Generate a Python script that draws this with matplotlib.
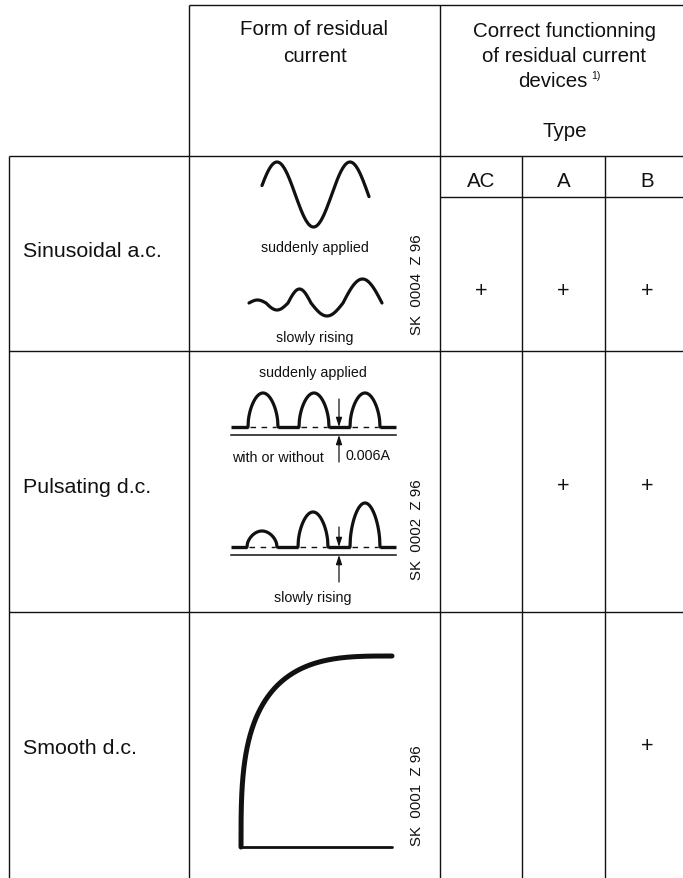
import numpy as np
import matplotlib.pyplot as plt

# Table content
row_labels = ["Sinusoidal a.c.", "Pulsating d.c.", "Smooth d.c."]
device_types = ["AC", "A", "B"]
# '+' = correct functioning of the device type for this form of current
works = [["+", "+", "+"],
         ["", "+", "+"],
         ["", "", "+"]]
drawing_codes = ["SK  0004  Z 96", "SK  0002  Z 96", "SK  0001  Z 96"]
header_form = ["Form of residual", "current"]
header_devices = ["Correct functionning", "of residual current"]

# pictogram parameters
slow_sine_amps = [3, -7, 14, -13, 24]        # half-cycle amplitudes, slowly rising a.c.
pulse_heights_sudden = [34, 34, 34]           # pulse heights, suddenly applied
pulse_heights_rising = [16, 35, 44]           # pulse heights, slowly rising

plt.rcParams['font.family'] = ['Liberation Sans', 'DejaVu Sans']
INK = "#111111"

fig = plt.figure(figsize=(6.83, 8.79), dpi=100)
ax = fig.add_axes([0, 0, 1, 1])
ax.set_xlim(0, 683)
ax.set_ylim(879, 0)
ax.axis('off')

# grid geometry (pixels)
x_left, x_form, x_dev = 9, 189, 440
x_types = [440, 522, 605, 689]
y_top, y_head, y_type = 5.7, 157, 198
row_edges = [157, 352, 613, 879]


def hline(y, x0, x1):
    ax.plot([x0, x1], [y, y], color=INK, lw=1.0, solid_capstyle='butt')


def vline(x, y0, y1):
    ax.plot([x, x], [y0, y1], color=INK, lw=1.0, solid_capstyle='butt')


hline(y_top, x_form, 690)
for y in row_edges[:-1]:
    hline(y, x_left, 690)
hline(y_type, x_dev, 690)
vline(x_left, y_head, 879)
vline(x_form, y_top, 879)
vline(x_dev, y_top, 879)
for x in x_types[1:3]:
    vline(x, y_head, 879)

# headers
big = 14.8
small = 10.3
cx_form = (x_form + x_dev) / 2
for txt, yb in zip(header_form, [35, 62]):
    ax.text(cx_form, yb, txt, ha='center', va='baseline', fontsize=big, color=INK)
cx_dev = (x_dev + x_types[-1]) / 2
for txt, yb in zip(header_devices, [37, 62]):
    ax.text(cx_dev, yb, txt, ha='center', va='baseline', fontsize=big, color=INK)
ax.text(cx_dev - 12, 87, "devices", ha='center', va='baseline', fontsize=big, color=INK)
ax.text(cx_dev + 27, 79, "1)", ha='left', va='baseline', fontsize=7.5, color=INK)
ax.text(cx_dev, 137, "Type", ha='center', va='baseline', fontsize=big, color=INK)

col_centers = [(a + b) / 2 for a, b in zip(x_types[:-1], x_types[1:])]
for cx, t in zip(col_centers, device_types):
    ax.text(cx, 187, t, ha='center', va='baseline', fontsize=big, color=INK)

# row labels, marks, drawing codes
label_base = [257, 493, 754]
plus_y = [292, 487, 747]
code_y = [285, 530, 796]
for i, lab in enumerate(row_labels):
    ax.text(23, label_base[i], lab, ha='left', va='baseline', fontsize=15.4, color=INK)
    for cx, m in zip(col_centers, works[i]):
        if m:
            ax.text(cx, plus_y[i], m, ha='center', va='center', fontsize=15.5,
                    color=INK, fontweight='light')
    ax.text(417, code_y[i], drawing_codes[i], rotation=90, ha='center', va='center',
            fontsize=10.8, color=INK)

wave_kw = dict(color=INK, lw=2.3, solid_capstyle='round', solid_joinstyle='round')

# row 1: sinusoidal a.c., suddenly applied
xs = np.linspace(262, 369, 200)
ax.plot(xs, 195.5 - 32.5 * np.sin(2 * np.pi * (xs - 277) / 73 + np.pi / 2), **wave_kw)
ax.text(315, 248, "suddenly applied", ha='center', va='center', fontsize=small, color=INK)

# row 1: slowly rising
edges = [249, 266, 288, 311, 343, 382]
px, py = [], []
for a, b, amp in zip(edges[:-1], edges[1:], slow_sine_amps):
    t = np.linspace(0, 1, 40)
    px.extend(a + (b - a) * t)
    py.extend(304 - amp * np.sin(np.pi * t))
ax.plot(px, py, **wave_kw)
ax.text(315, 338, "slowly rising", ha='center', va='center', fontsize=small, color=INK)


def pulses(base, heights, starts, width=30):
    segs = [231] + [v for s in starts for v in (s, s + width)] + [396]
    for a, b in zip(segs[0::2], segs[1::2]):
        ax.plot([a, b], [base, base], color=INK, lw=2.4, solid_capstyle='butt')
    for s, h in zip(starts, heights):
        t = np.linspace(0, 1, 80)
        ax.plot(s + width * t, base - h * np.sin(np.pi * t) ** 0.5, **wave_kw)
        ax.plot([s + 2, s + width - 2], [base, base], color=INK, lw=1.0,
                dashes=(4, 4))
    ax.plot([231, 396], [base + 8, base + 8], color=INK, lw=1.1)


def arrow(x, y0, y1):
    ax.annotate("", xy=(x, y1), xytext=(x, y0),
                arrowprops=dict(arrowstyle='-|>,head_length=0.55,head_width=0.18',
                                color=INK, lw=0.9, shrinkA=0, shrinkB=0))


# row 2: pulsating d.c.
ax.text(313, 373, "suddenly applied", ha='center', va='center', fontsize=small, color=INK)
pulses(428, pulse_heights_sudden, [248, 299, 350])
arrow(339, 400, 428)
arrow(339, 463, 436)
ax.text(278, 458, "with or without", ha='center', va='center', fontsize=small, color=INK)
ax.text(345, 456, "0.006A", ha='left', va='center', fontsize=small, color=INK)

pulses(548, pulse_heights_rising, [247, 298, 350])
arrow(339, 528, 548)
arrow(339, 583, 556)
ax.text(313, 598, "slowly rising", ha='center', va='center', fontsize=small, color=INK)

# row 3: smooth d.c.
theta = np.linspace(0, np.pi / 2, 200)
n = 3.2
cx_ = 392 - 151 * np.cos(theta) ** (2 / n)
cy_ = 848 - 191 * np.sin(theta) ** (2 / n)
ax.plot(cx_, cy_, color=INK, lw=3.6, solid_capstyle='round')
ax.plot([241, 392], [848, 848], color=INK, lw=2.0, solid_capstyle='round')

fig.savefig("out.png", dpi=100)
